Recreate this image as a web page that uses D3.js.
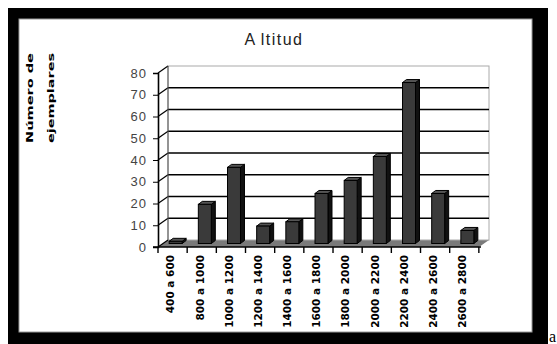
<!DOCTYPE html>
<head>
    <meta charset="utf-8">
    <script src="https://cdn.jsdelivr.net/npm/d3@7"></script>
    <style>
        body { margin: 0; background: #fff; }
    </style>
</head>
<body>
    <div id="chart"></div>
    <script>
        const width = 557, height = 344;

        // données
        const categories = ["400 a 600", "800 a 1000", "1000 a 1200", "1200 a 1400", "1400 a 1600",
            "1600 a 1800", "1800 a 2000", "2000 a 2200", "2200 a 2400", "2400 a 2600", "2600 a 2800"];
        const counts = [1, 18, 35, 8, 10, 23, 29, 40, 74, 23, 6];
        const yTicks = [0, 10, 20, 30, 40, 50, 60, 70, 80];

        // profondeur de l'effet 3D
        const depth = { dx: 10, dy: -7 };
        const bar = { dx: 4, dy: -3 };

        const svg = d3.select("#chart").append("svg")
            .attr("width", width)
            .attr("height", height);

        // cadre noir de l'image
        svg.append("rect").attr("x", 8).attr("y", 8).attr("width", 540).attr("height", 336).attr("fill", "#000");
        svg.append("rect").attr("x", 19).attr("y", 19).attr("width", 513).attr("height", 313)
            .attr("fill", "#fff").attr("stroke", "#999").attr("stroke-width", 1);

        svg.append("text").attr("x", 549).attr("y", 342)
            .style("font-family", "Liberation Serif, serif").style("font-size", "16px")
            .text("a");

        const x = d3.scaleBand()
            .domain(categories)
            .range([158, 479])
            .paddingInner(0.555)
            .paddingOuter(0.28);

        const y = d3.scaleLinear()
            .domain([0, 80])
            .range([247, 73]);

        const x0 = 158, x1 = 479, y0 = y(0);

        // sol
        svg.append("path")
            .attr("d", `M${x0},${y0} L${x1},${y0} L${x1 + depth.dx},${y0 + depth.dy} L${x0 + depth.dx},${y0 + depth.dy} Z`)
            .attr("fill", "#7a7a7a");

        // mur du fond et grille
        svg.append("rect")
            .attr("x", x0 + depth.dx).attr("y", y(80) + depth.dy)
            .attr("width", x1 - x0).attr("height", y0 - y(80))
            .attr("fill", "none").attr("stroke", "#aaa");

        const grid = svg.append("g");
        grid.selectAll("line.h")
            .data(yTicks.filter(d => d > 0 && d < 80))
            .enter().append("line")
            .attr("x1", x0 + depth.dx).attr("x2", x1 + depth.dx)
            .attr("y1", d => y(d) + depth.dy).attr("y2", d => y(d) + depth.dy)
            .attr("stroke", "#000").attr("stroke-width", 1.6);
        grid.selectAll("line.d")
            .data(yTicks)
            .enter().append("line")
            .attr("x1", x0).attr("x2", x0 + depth.dx)
            .attr("y1", d => y(d)).attr("y2", d => y(d) + depth.dy)
            .attr("stroke", "#000").attr("stroke-width", 1.2);
        svg.append("line")
            .attr("x1", x0 + depth.dx).attr("x2", x0 + depth.dx)
            .attr("y1", y(80) + depth.dy).attr("y2", y0 + depth.dy)
            .attr("stroke", "#555").attr("stroke-width", 1);

        // barres 3D, placées à mi-profondeur
        const mx = 3, my = depth.dy / 2;
        const bars = svg.append("g")
            .selectAll("g")
            .data(categories.map((c, i) => ({ c, v: counts[i] })))
            .enter().append("g")
            .attr("transform", d => `translate(${x(d.c) + mx},${my})`);
        const bw = x.bandwidth();
        bars.append("path") // face latérale
            .attr("d", d => `M${bw},${y(d.v)} L${bw + bar.dx},${y(d.v) + bar.dy} L${bw + bar.dx},${y0 + bar.dy} L${bw},${y0} Z`)
            .attr("fill", "#111").attr("stroke", "#000");
        bars.append("path") // dessus
            .attr("d", d => `M0,${y(d.v)} L${bar.dx},${y(d.v) + bar.dy} L${bw + bar.dx},${y(d.v) + bar.dy} L${bw},${y(d.v)} Z`)
            .attr("fill", "#555").attr("stroke", "#000");
        bars.append("rect") // face avant
            .attr("x", 0).attr("y", d => y(d.v))
            .attr("width", bw).attr("height", d => y0 - y(d.v))
            .attr("fill", "#3a3a3a").attr("stroke", "#000");

        // axes
        const yAxis = svg.append("g")
            .attr("transform", `translate(${x0},0)`)
            .call(d3.axisLeft(y).tickValues(yTicks).tickSize(5).tickPadding(6));
        yAxis.select(".domain").attr("stroke-width", 1.6);
        yAxis.selectAll("text")
            .style("font-family", "Liberation Sans, Arial, sans-serif")
            .style("font-size", "13px")
            .style("letter-spacing", "1px")
            .attr("fill", "#444");

        const xAxis = svg.append("g")
            .attr("transform", `translate(0,${y0})`);
        xAxis.append("line")
            .attr("x1", x0 - 5).attr("x2", x1 + 2)
            .attr("stroke", "#000").attr("stroke-width", 1.6);
        const bounds = d3.range(categories.length + 1).map(i => x0 + i * x.step());
        xAxis.selectAll("line.tick")
            .data(bounds)
            .enter().append("line")
            .attr("x1", d => d).attr("x2", d => d)
            .attr("y1", 0).attr("y2", 6)
            .attr("stroke", "#000").attr("stroke-width", 1.4);
        xAxis.selectAll("text")
            .data(categories)
            .enter().append("text")
            .attr("transform", d => `translate(${x(d) + bw / 2 - 2},8) rotate(-90)`)
            .attr("dy", "0.35em")
            .attr("text-anchor", "end")
            .style("font-family", "DejaVu Sans, sans-serif")
            .style("font-weight", "bold")
            .style("font-size", "10.5px")
            .text(d => d);

        // titre
        const title = svg.append("text")
            .attr("x", 274).attr("y", 45)
            .attr("text-anchor", "middle")
            .style("font-family", "Liberation Sans, Arial, sans-serif")
            .style("font-size", "16px")
            .style("letter-spacing", "1.5px")
            .attr("fill", "#222");
        title.append("tspan").text("A");
        title.append("tspan").attr("dx", 4).text("ltitud");

        // titre de l'axe vertical
        const ylab = svg.append("g");
        [["Número de", 33], ["ejemplares", 54]].forEach(([t, px]) => {
            ylab.append("text")
                .attr("transform", `translate(${px},143) rotate(-90)`)
                .attr("textLength", 90)
                .attr("lengthAdjust", "spacingAndGlyphs")
                .style("font-family", "DejaVu Sans, sans-serif")
                .style("font-weight", "bold")
                .style("font-size", "9px")
                .text(t);
        });
    </script>
</body>
